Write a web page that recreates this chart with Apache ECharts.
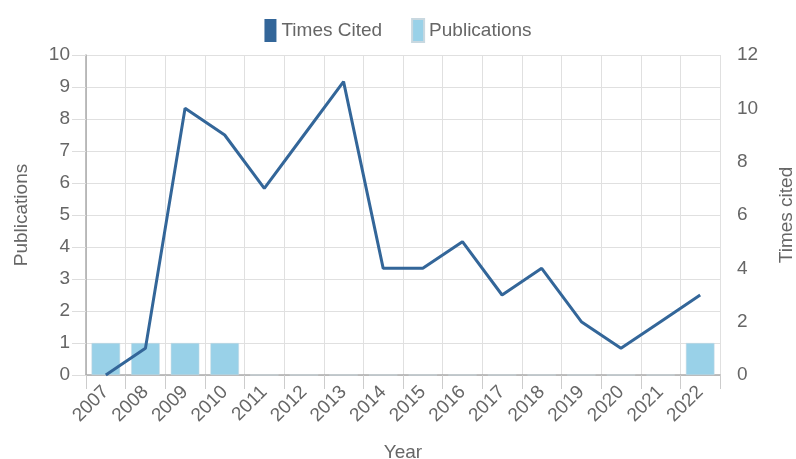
<!DOCTYPE html>
<html>
<head>
<meta charset="utf-8">
<script src="https://cdn.jsdelivr.net/npm/echarts@6/dist/echarts.min.js"></script>
<style>
  html, body { margin: 0; padding: 0; background: #fff; }
  #chart { width: 796px; height: 459px; }
</style>
</head>
<body>
<div id="chart"></div>
<script>
  var years = ['2007', '2008', '2009', '2010', '2011', '2012', '2013', '2014',
               '2015', '2016', '2017', '2018', '2019', '2020', '2021', '2022'];
  var publications = [1, 1, 1, 1, 0, 0, 0, 0, 0, 0, 0, 0, 0, 0, 0, 1];
  var timesCited = [0, 1, 10, 9, 7, 9, 11, 4, 4, 5, 3, 4, 2, 1, 2, 3];

  var font = 'Liberation Sans, Arial, sans-serif';
  var myChart = echarts.init(document.getElementById('chart'));

  var option = {
    textStyle: { fontFamily: font },
    legend: {
      top: 13,
      left: 'center',
      itemWidth: 12,
      itemHeight: 23,
      itemGap: 29,
      textStyle: { fontSize: 19, color: '#666', fontFamily: font },
      data: [
        { name: 'Times Cited', icon: 'rect', itemStyle: { color: '#336699' } },
        { name: 'Publications', icon: 'rect' }
      ]
    },
    grid: { left: 86, right: 76, top: 55, bottom: 84, outerBoundsMode: 'none', containLabel: false },
    xAxis: {
      type: 'category',
      data: years,
      name: 'Year',
      nameLocation: 'middle',
      nameGap: 68,
      nameTextStyle: { fontSize: 19, color: '#666' },
      axisLine: { lineStyle: { color: '#aaa', width: 1.5 } },
      axisTick: { show: true, length: 14, lineStyle: { color: '#ccc' } },
      axisLabel: { rotate: 45, fontSize: 19, color: '#666', margin: 14, interval: 0 },
      splitLine: { show: true, lineStyle: { color: '#e0e0e0' } }
    },
    yAxis: [
      {
        type: 'value',
        min: 0, max: 10, interval: 1,
        name: 'Publications',
        nameLocation: 'middle',
        nameGap: 55,
        nameTextStyle: { fontSize: 19, color: '#666' },
        axisLine: { show: true, lineStyle: { color: '#aaa', width: 1.5 } },
        axisTick: { show: true, length: 14, lineStyle: { color: '#ddd' } },
        axisLabel: { fontSize: 19, color: '#666', margin: 16 },
        splitLine: { show: true, lineStyle: { color: '#e0e0e0' } }
      },
      {
        type: 'value',
        min: 0, max: 12, interval: 2,
        name: 'Times cited',
        nameLocation: 'middle',
        nameGap: 57,
        nameTextStyle: { fontSize: 19, color: '#666' },
        axisLine: { show: false },
        axisTick: { show: false },
        axisLabel: { fontSize: 19, color: '#666', margin: 17 },
        splitLine: { show: false }
      }
    ],
    series: [
      {
        name: 'Times Cited',
        type: 'line',
        yAxisIndex: 1,
        data: timesCited,
        showSymbol: false,
        symbol: 'none',
        lineStyle: { color: '#336699', width: 3 },
        itemStyle: { color: '#336699' },
        z: 3
      },
      {
        name: 'Publications',
        type: 'bar',
        yAxisIndex: 0,
        data: publications,
        barWidth: '72%',
        itemStyle: { color: '#99d1e8', borderColor: '#c8d8e0', borderWidth: 0.5 },
        z: 2
      }
    ]
  };

  myChart.setOption(option);
</script>
</body>
</html>
